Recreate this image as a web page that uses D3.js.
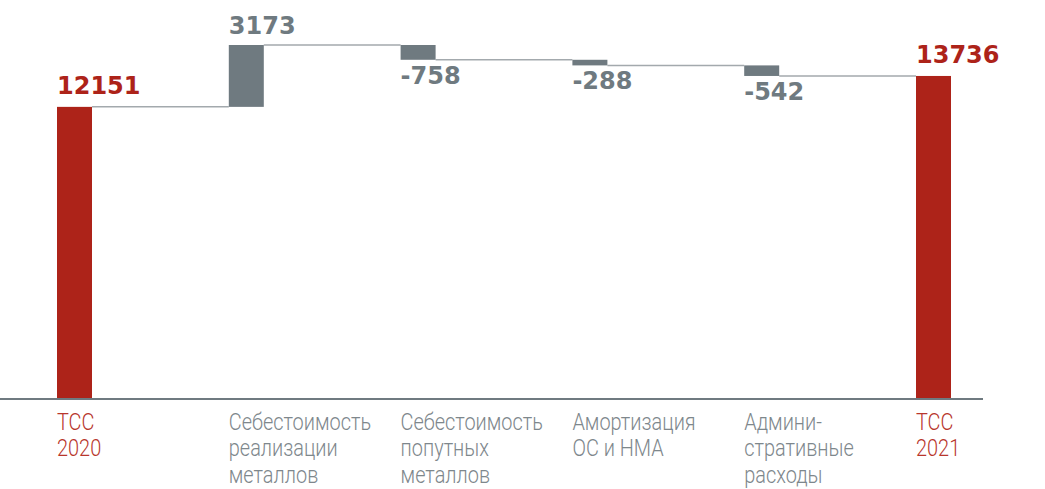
<!DOCTYPE html>
<html>
<head>
<meta charset="utf-8">
<script src="https://cdn.jsdelivr.net/npm/d3@7"></script>
<style>
  body { margin: 0; background: #fff; }
  .cat { font-family: Roboto, sans-serif; font-weight: 300; font-size: 24px; }
  .val { font-family: "DejaVu Sans", sans-serif; font-weight: bold; font-size: 24px; }
</style>
</head>
<body>
<div id="chart"></div>
<script>
const categories = [
  ["ТСС", "2020"],
  ["Себестоимость", "реализации", "металлов"],
  ["Себестоимость", "попутных", "металлов"],
  ["Амортизация", "ОС и НМА"],
  ["Админи-", "стративные", "расходы"],
  ["ТСС", "2021"]
];
const values = [12151, 3173, -758, -288, -542, 13736];
const isTotal = [true, false, false, false, false, true];
const valueLabels = ["12151", "3173", "-758", "-288", "-542", "13736"];

const width = 1045,
  height = 489,
  baseY = 399,
  barWidth = 35,
  red = "#ad2319",
  grey = "#6f7a80",
  lineGrey = "#a3a9ad";

// waterfall steps
let running = 0;
const steps = values.map((v, i) => {
  let start, end;
  if (isTotal[i]) {
    start = null;
    end = v;
    running = v;
  } else {
    start = running;
    end = running + v;
    running = end;
  }
  return { i, v, start, end, total: isTotal[i] };
});

const x = d3.scalePoint().domain(d3.range(values.length)).range([57, 916]);
// the picture's axis does not sit at zero
const y = d3.scaleLinear().domain([-2830, 15324]).range([baseY, 45]);

const svg = d3
  .select("#chart")
  .append("svg")
  .attr("width", width)
  .attr("height", height);

// connectors
svg
  .selectAll(".conn")
  .data(steps.slice(0, -1))
  .enter()
  .append("line")
  .attr("class", "conn")
  .attr("x1", d => x(d.i) + barWidth)
  .attr("x2", d => x(d.i + 1))
  .attr("y1", d => y(d.end))
  .attr("y2", d => y(d.end))
  .style("stroke", lineGrey)
  .style("stroke-width", 1.5);

// bars
svg
  .selectAll(".bar")
  .data(steps)
  .enter()
  .append("rect")
  .attr("class", "bar")
  .attr("x", d => x(d.i))
  .attr("width", barWidth)
  .attr("y", d => (d.total ? y(d.end) : y(Math.max(d.start, d.end))))
  .attr("height", d =>
    d.total ? baseY - y(d.end) : Math.abs(y(d.start) - y(d.end))
  )
  .style("fill", d => (d.total ? red : grey));

// axis line
svg
  .append("line")
  .attr("x1", 0)
  .attr("x2", 983)
  .attr("y1", baseY)
  .attr("y2", baseY)
  .style("stroke", grey)
  .style("stroke-width", 2);

// value labels
svg
  .selectAll(".val")
  .data(steps)
  .enter()
  .append("text")
  .attr("class", "val")
  .attr("x", d => x(d.i))
  .attr("y", d => {
    if (d.total) return y(d.end) - 13;
    if (d.v > 0) return y(d.end) - 11;
    return y(d.end) + 24;
  })
  .style("fill", d => (d.total ? red : grey))
  .text((d, i) => valueLabels[i]);

// category labels (the font in the picture is a narrow one)
const cat = svg
  .selectAll(".cat")
  .data(categories)
  .enter()
  .append("text")
  .attr("class", "cat")
  .attr("transform", (d, i) => `translate(${x(i)},430) scale(0.83,1)`)
  .style("fill", (d, i) => (isTotal[i] ? "#b8362c" : "#7e878c"));

cat
  .selectAll("tspan")
  .data(d => d)
  .enter()
  .append("tspan")
  .attr("x", 0)
  .attr("dy", (d, j) => (j === 0 ? 0 : 26.5))
  .text(d => d);
</script>
</body>
</html>
